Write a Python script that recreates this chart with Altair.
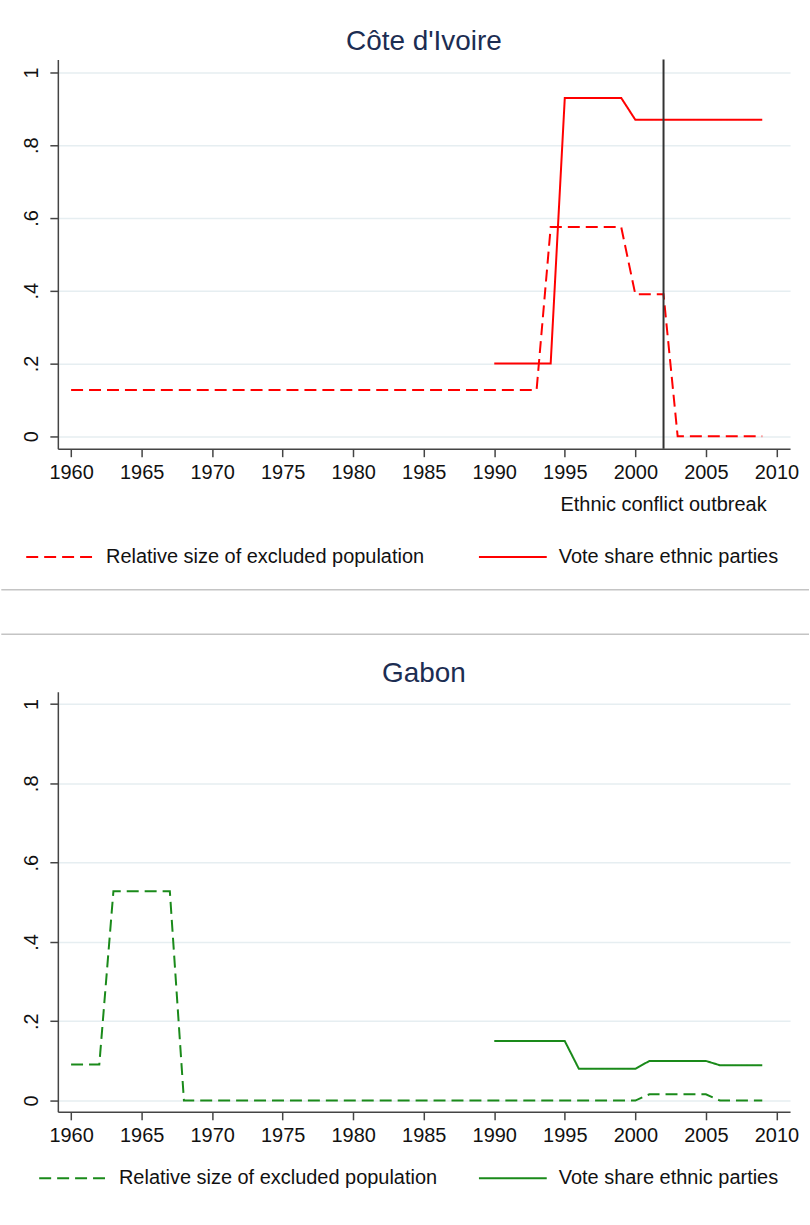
import altair as alt
import pandas as pd

FONT = "Liberation Sans"

years = [1960, 1961, 1962, 1963, 1964, 1965, 1966, 1967, 1968, 1969,
         1970, 1971, 1972, 1973, 1974, 1975, 1976, 1977, 1978, 1979,
         1980, 1981, 1982, 1983, 1984, 1985, 1986, 1987, 1988, 1989,
         1990, 1991, 1992, 1993, 1994, 1995, 1996, 1997, 1998, 1999,
         2000, 2001, 2002, 2003, 2004, 2005, 2006, 2007, 2008, 2009]
vote_years = [1990, 1991, 1992, 1993, 1994, 1995, 1996, 1997, 1998, 1999,
              2000, 2001, 2002, 2003, 2004, 2005, 2006, 2007, 2008, 2009]

civ_excluded = [0.127, 0.127, 0.127, 0.127, 0.127, 0.127, 0.127, 0.127, 0.127, 0.127,
                0.127, 0.127, 0.127, 0.127, 0.127, 0.127, 0.127, 0.127, 0.127, 0.127,
                0.127, 0.127, 0.127, 0.127, 0.127, 0.127, 0.127, 0.127, 0.127, 0.127,
                0.127, 0.127, 0.127, 0.127, 0.575, 0.575, 0.575, 0.575, 0.575, 0.575,
                0.39, 0.39, 0.39, 0.0, 0.0, 0.0, 0.0, 0.0, 0.0, 0.0]
civ_vote = [0.2, 0.2, 0.2, 0.2, 0.2, 0.93, 0.93, 0.93, 0.93, 0.93,
            0.87, 0.87, 0.87, 0.87, 0.87, 0.87, 0.87, 0.87, 0.87, 0.87]

gab_excluded = [0.091, 0.091, 0.091, 0.528, 0.528, 0.528, 0.528, 0.528, 0.0, 0.0,
                0.0, 0.0, 0.0, 0.0, 0.0, 0.0, 0.0, 0.0, 0.0, 0.0,
                0.0, 0.0, 0.0, 0.0, 0.0, 0.0, 0.0, 0.0, 0.0, 0.0,
                0.0, 0.0, 0.0, 0.0, 0.0, 0.0, 0.0, 0.0, 0.0, 0.0,
                0.0, 0.016, 0.016, 0.016, 0.016, 0.016, 0.0, 0.0, 0.0, 0.0]
gab_vote = [0.15, 0.15, 0.15, 0.15, 0.15, 0.15, 0.08, 0.08, 0.08, 0.08,
            0.08, 0.10, 0.10, 0.10, 0.10, 0.10, 0.089, 0.089, 0.089, 0.089]

series_names = ["Relative size of excluded population", "Vote share ethnic parties"]
panel_titles = ["Côte d'Ivoire", "Gabon"]
conflict_year = [2002]
conflict_label = ["Ethnic conflict outbreak"]
x_ticks = [1960, 1965, 1970, 1975, 1980, 1985, 1990, 1995, 2000, 2005, 2010]
y_ticks = [0, 0.2, 0.4, 0.6, 0.8, 1]

X_DOMAIN = [1959.06, 2010.97]
PLOT_W = 734.3
LEFT = 56.7


def long_frame(excl, vote):
    rows = []
    for y, v in zip(years, excl):
        rows.append({"year": y, "value": v, "series": series_names[0]})
    for y, v in zip(vote_years, vote):
        rows.append({"year": y, "value": v, "series": series_names[1]})
    return pd.DataFrame(rows)


def panel(title, color, excl, vote, height, ydom, legend_x, legend_y, col_pad,
          sep_y, with_conflict):
    df = long_frame(excl, vote)
    xaxis = alt.Axis(values=x_ticks, format="d", title=None, grid=False,
                     domainColor="#444", domainWidth=1.5, tickColor="#444",
                     tickWidth=1.5, tickSize=8, labelFont=FONT, labelFontSize=20,
                     labelColor="#111", labelPadding=6, labelFlush=False)
    yaxis = alt.Axis(values=y_ticks, title=None, grid=True, gridColor="#e6eef1",
                     gridWidth=1.5, domainColor="#444", domainWidth=1.5,
                     tickColor="#444", tickWidth=1.5, tickSize=8,
                     labelFont=FONT, labelFontSize=20, labelColor="#111",
                     labelAngle=270, labelAlign="center", labelBaseline="alphabetic",
                     labelPadding=12, labelFlush=False,
                     labelExpr="datum.value == 0 ? '0' : datum.value == 1 ? '1' : replace(format(datum.value, '.1f'), '0.', '.')")
    lines = alt.Chart(df).mark_line(strokeWidth=2, color=color, strokeCap="butt").encode(
        x=alt.X("year:Q", scale=alt.Scale(domain=X_DOMAIN, nice=False, zero=False), axis=xaxis),
        y=alt.Y("value:Q", scale=alt.Scale(domain=ydom, nice=False, zero=False), axis=yaxis),
        strokeDash=alt.StrokeDash(
            "series:N",
            scale=alt.Scale(domain=series_names, range=[[12, 6], [1, 0]]),
            legend=alt.Legend(orient="none", legendX=legend_x, legendY=legend_y,
                              direction="horizontal", title=None, symbolType="stroke",
                              symbolSize=4624, symbolStrokeWidth=2,
                              symbolStrokeColor=color, labelFont=FONT,
                              labelFontSize=20, labelColor="#111", labelLimit=0,
                              labelOffset=11, columnPadding=col_pad, padding=0),
        ),
    )
    one = pd.DataFrame({"label": [title]})
    ttl = alt.Chart(one).mark_text(font=FONT, fontSize=28, color="#1c2d52",
                                   align="center", baseline="alphabetic").encode(
        x=alt.value(PLOT_W / 2), y=alt.value(-10), text="label:N")
    sep = alt.Chart(one).mark_rule(color="#c4c4c4", strokeWidth=1.5).encode(
        x=alt.value(-LEFT), x2=alt.value(810 - LEFT), y=alt.value(sep_y)
    )
    layers = [lines, ttl]
    if with_conflict:
        cdf = pd.DataFrame({"year": conflict_year, "label": conflict_label})
        vline = alt.Chart(cdf).mark_rule(color="#333", strokeWidth=2).encode(x="year:Q")
        vtext = alt.Chart(cdf).mark_text(font=FONT, fontSize=20, color="#111",
                                          align="center", baseline="alphabetic").encode(
            x="year:Q", y=alt.value(453), text="label:N")
        layers += [vline, vtext]
    layers.append(sep)
    return alt.layer(*layers).properties(width=PLOT_W, height=height)


top = panel(panel_titles[0], "#ff0000", civ_excluded, civ_vote, 390.3,
            [-0.0345, 1.0356], -32.7, 464, 50, 531.7, True)
bottom = panel(panel_titles[1], "#1a8a1a", gab_excluded, gab_vote, 421.3,
               [-0.0284, 1.031], -19.7, 453, 37, -57.7, False)

chart = alt.vconcat(top, bottom, spacing=42).resolve_scale(
    strokeDash="independent").resolve_legend(strokeDash="independent").configure(
    padding={"left": 0, "top": 26, "right": 0, "bottom": 0},
    background="white",
).configure_view(stroke=None)

chart.save("out.html", embed_options={"renderer": "svg", "actions": False})
